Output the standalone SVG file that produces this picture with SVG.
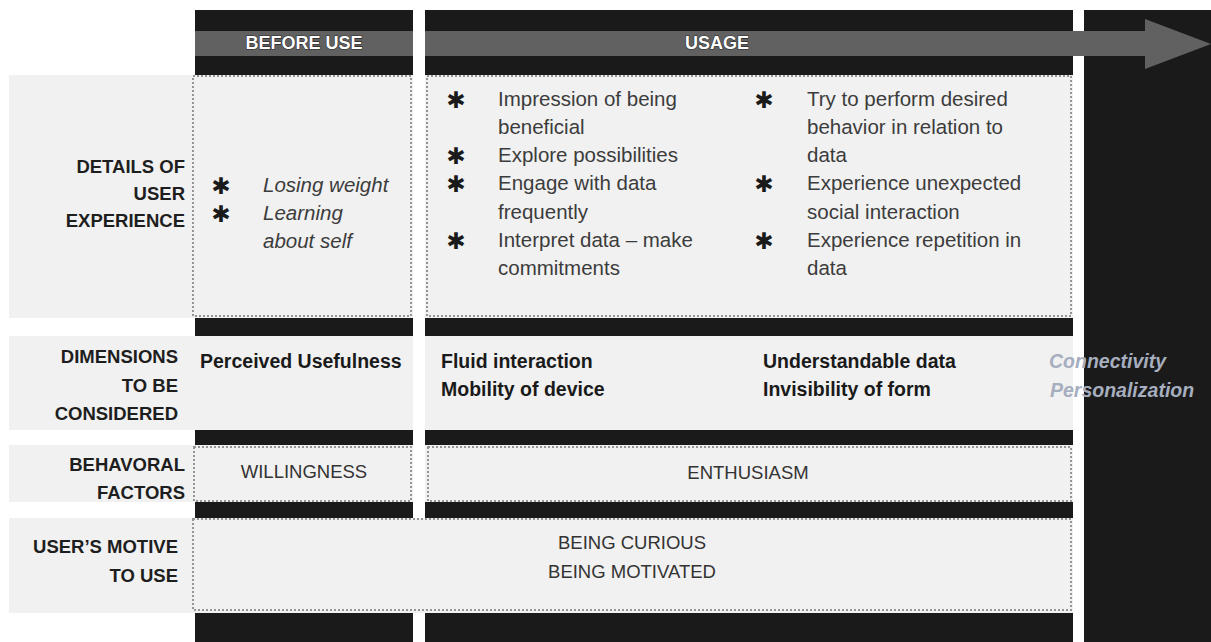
<svg xmlns="http://www.w3.org/2000/svg" width="1211" height="642" viewBox="0 0 1211 642">
  <style>
    .col { fill: #1a1a1a; }
    .band { fill: #616161; }
    .panel { fill: #f1f1f1; }
    .dot { fill: none; stroke: #959595; stroke-width: 2; stroke-dasharray: 2 2; }
    .hdr { font-family: "Liberation Sans", Arial, sans-serif; font-weight: bold; font-size: 18px; fill: #ffffff; stroke: #2a2a2a; stroke-width: 1.2; paint-order: stroke; text-anchor: middle; }
    .lbl { font-family: "Liberation Sans", Arial, sans-serif; font-weight: bold; font-size: 18.5px; fill: #1e1e1e; text-anchor: end; }
    .body { font-family: "Liberation Sans", Arial, sans-serif; font-size: 20.5px; fill: #3c3c3c; }
    .ital { font-family: "Liberation Sans", Arial, sans-serif; font-style: italic; font-size: 20.5px; fill: #3c3c3c; }
    .dim { font-family: "Liberation Sans", Arial, sans-serif; font-weight: bold; font-size: 19.5px; fill: #1a1a1a; }
    .fade { font-family: "Liberation Sans", Arial, sans-serif; font-weight: bold; font-style: italic; font-size: 19.5px; fill: #a6aebf; }
    .caps { font-family: "Liberation Sans", Arial, sans-serif; font-size: 18.5px; fill: #333333; text-anchor: middle; }
    .star { font-family: "DejaVu Sans", sans-serif; font-weight: bold; font-size: 23px; fill: #1a1a1a; text-anchor: middle; }
  </style>

  <rect width="1211" height="642" fill="#ffffff"/>

  <!-- phase columns -->
  <g id="columns">
    <rect class="col" x="195" y="10" width="218" height="632"/>
    <rect class="col" x="425" y="10" width="648" height="632"/>
    <rect class="col" x="1084" y="10" width="127" height="632"/>
  </g>

  <!-- timeline banner running through the phases -->
  <g id="connectors">
    <rect class="band" x="195" y="31" width="218" height="25"/>
    <polygon class="band" points="425,31 1145,31 1145,19 1211,44 1145,69 1145,56 425,56"/>
  </g>

  <g id="header-before-use">
    <text class="hdr" x="304" y="49">BEFORE USE</text>
  </g>
  <g id="header-usage">
    <text class="hdr" x="717" y="49">USAGE</text>
  </g>

  <!-- row 1: details of user experience -->
  <g id="row-details">
    <rect class="panel" x="9" y="75" width="404" height="243"/>
    <rect class="panel" x="425" y="75" width="648" height="243"/>
    <text class="lbl" x="185" y="173">DETAILS OF</text>
    <text class="lbl" x="185" y="200">USER</text>
    <text class="lbl" x="185" y="227">EXPERIENCE</text>
  </g>

  <g id="details-before">
    <rect class="dot" x="193" y="76" width="218" height="240"/>
    <text class="star" x="221" y="194">✱</text>
    <text class="star" x="221" y="222">✱</text>
    <text class="ital" x="263" y="192">Losing weight</text>
    <text class="ital" x="263" y="220">Learning</text>
    <text class="ital" x="263" y="248">about self</text>
  </g>

  <g id="details-usage">
    <rect class="dot" x="427" y="76" width="644" height="240"/>
    <text class="star" x="456" y="108">✱</text>
    <text class="star" x="456" y="164">✱</text>
    <text class="star" x="456" y="192">✱</text>
    <text class="star" x="456" y="249">✱</text>
    <text class="body" x="498" y="106">Impression of being</text>
    <text class="body" x="498" y="134">beneficial</text>
    <text class="body" x="498" y="162">Explore possibilities</text>
    <text class="body" x="498" y="190">Engage with data</text>
    <text class="body" x="498" y="219">frequently</text>
    <text class="body" x="498" y="247">Interpret data – make</text>
    <text class="body" x="498" y="275">commitments</text>
    <text class="star" x="764" y="108">✱</text>
    <text class="star" x="764" y="192">✱</text>
    <text class="star" x="764" y="249">✱</text>
    <text class="body" x="807" y="106">Try to perform desired</text>
    <text class="body" x="807" y="134">behavior in relation to</text>
    <text class="body" x="807" y="162">data</text>
    <text class="body" x="807" y="190">Experience unexpected</text>
    <text class="body" x="807" y="219">social interaction</text>
    <text class="body" x="807" y="247">Experience repetition in</text>
    <text class="body" x="807" y="275">data</text>
  </g>

  <!-- row 2: dimensions to be considered -->
  <g id="row-dimensions">
    <rect class="panel" x="9" y="336" width="404" height="94"/>
    <rect class="panel" x="425" y="336" width="648" height="94"/>
    <text class="lbl" x="178" y="363">DIMENSIONS</text>
    <text class="lbl" x="178" y="392">TO BE</text>
    <text class="lbl" x="178" y="420">CONSIDERED</text>
  </g>
  <g id="dimensions-before">
    <text class="dim" x="200" y="368">Perceived Usefulness</text>
  </g>
  <g id="dimensions-usage">
    <text class="dim" x="441" y="368">Fluid interaction</text>
    <text class="dim" x="441" y="396">Mobility of device</text>
    <text class="dim" x="763" y="368">Understandable data</text>
    <text class="dim" x="763" y="396">Invisibility of form</text>
  </g>
  <g id="dimensions-after">
    <text class="fade" x="1049" y="368">Connectivity</text>
    <text class="fade" x="1050" y="397">Personalization</text>
  </g>

  <!-- row 3: behavioral factors -->
  <g id="row-behavioral">
    <rect class="panel" x="9" y="445" width="404" height="57"/>
    <rect class="panel" x="425" y="445" width="648" height="57"/>
    <text class="lbl" x="185" y="471">BEHAVORAL</text>
    <text class="lbl" x="185" y="499">FACTORS</text>
  </g>
  <g id="behavioral-before">
    <rect class="dot" x="194" y="447" width="217" height="54"/>
    <text class="caps" x="304" y="478">WILLINGNESS</text>
  </g>
  <g id="behavioral-usage">
    <rect class="dot" x="428" y="447" width="643" height="54"/>
    <text class="caps" x="748" y="479">ENTHUSIASM</text>
  </g>

  <!-- row 4: user's motive to use -->
  <g id="row-motive">
    <rect class="panel" x="9" y="518" width="1064" height="95"/>
    <text class="lbl" x="178" y="553">USER’S MOTIVE</text>
    <text class="lbl" x="178" y="582">TO USE</text>
  </g>
  <g id="motive-span">
    <rect class="dot" x="193" y="519" width="878" height="91"/>
    <text class="caps" x="632" y="549">BEING CURIOUS</text>
    <text class="caps" x="632" y="578">BEING MOTIVATED</text>
  </g>
</svg>
